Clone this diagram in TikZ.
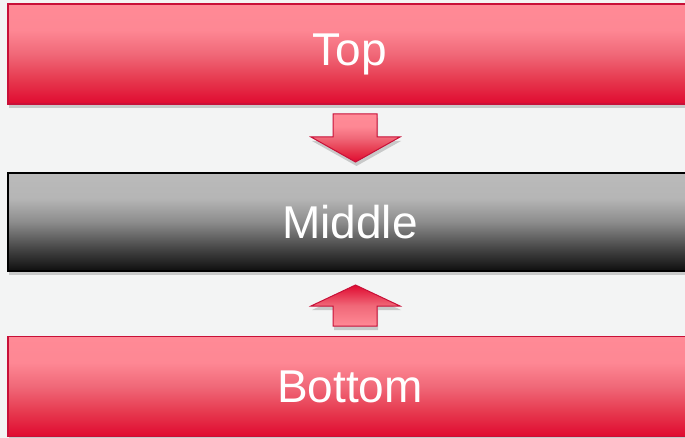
\documentclass[tikz,border=0pt]{standalone}
\usepackage{fontspec}
\setmainfont{Liberation Sans}
\usepackage{xcolor}
\usepackage{tikz}
\usetikzlibrary{calc, shadows, positioning}

\definecolor{bgpaper}{RGB}{243,244,244}
\definecolor{redlight}{RGB}{255,138,150}
\definecolor{redmid}{RGB}{240,104,120}
\definecolor{redlow}{RGB}{230,56,78}
\definecolor{reddark}{RGB}{224,10,48}
\definecolor{redline}{RGB}{200,16,56}
\definecolor{graylight}{RGB}{186,186,186}
\definecolor{graymid}{RGB}{140,140,140}
\definecolor{graylow}{RGB}{72,72,72}
\definecolor{graydark}{RGB}{14,14,14}

% Dải màu dọc cho các khối
\pgfdeclareverticalshading{redfade}{100bp}{color(0bp)=(reddark); color(25bp)=(reddark);
    color(37bp)=(redlow); color(50bp)=(redmid); color(62bp)=(redlight!92!redmid);
    color(75bp)=(redlight); color(100bp)=(redlight)}
\pgfdeclareverticalshading{redfadeup}{100bp}{color(0bp)=(redlight); color(25bp)=(redlight);
    color(50bp)=(redmid); color(75bp)=(reddark); color(100bp)=(reddark)}
\pgfdeclareverticalshading{grayfade}{100bp}{color(0bp)=(graydark); color(25bp)=(graydark);
    color(37bp)=(graylow); color(50bp)=(graymid); color(62bp)=(graylight!90!graymid);
    color(75bp)=(graylight); color(100bp)=(graylight)}

\tikzset{
    softshadow/.style={drop shadow={shadow xshift=1pt, shadow yshift=-4pt, opacity=0.3, fill=black!60}},
    redbox/.style={rectangle, draw=redline, line width=1.5pt, shading=redfade,
        minimum width=684pt, minimum height=100pt, text=white, softshadow,
        font=\fontsize{46}{52}\selectfont},
    graybox/.style={redbox, draw=black, shading=grayfade, minimum height=98pt},
    downarrow/.style={draw=redline, line width=1pt, shading=redfade, softshadow},
    uparrow/.style={draw=redline, line width=1pt, shading=redfadeup, softshadow}
}

\begin{document}
\begin{tikzpicture}[x=1pt, y=-1pt]
    % Nền và khung hình
    \fill[bgpaper] (0,0) rectangle (685,438);
    \useasboundingbox (0,0) rectangle (685,438);

    % Ba khối chính
    \node[redbox] (top) at (350,54) {Top};
    \node[graybox] (middle) at (350,222) {Middle};
    \node[redbox] (bottom) at (350,386.5) {Bottom};

    % Mũi tên khối hướng xuống
    \draw[downarrow] (333,114) -- (377,114) -- (377,137) -- (400,137)
        -- (355.5,162) -- (311,137) -- (333,137) -- cycle;

    % Mũi tên khối hướng lên
    \draw[uparrow] (355.5,285) -- (400,306) -- (377,306) -- (377,326)
        -- (333,326) -- (333,306) -- (311,306) -- cycle;
\end{tikzpicture}
\end{document}
